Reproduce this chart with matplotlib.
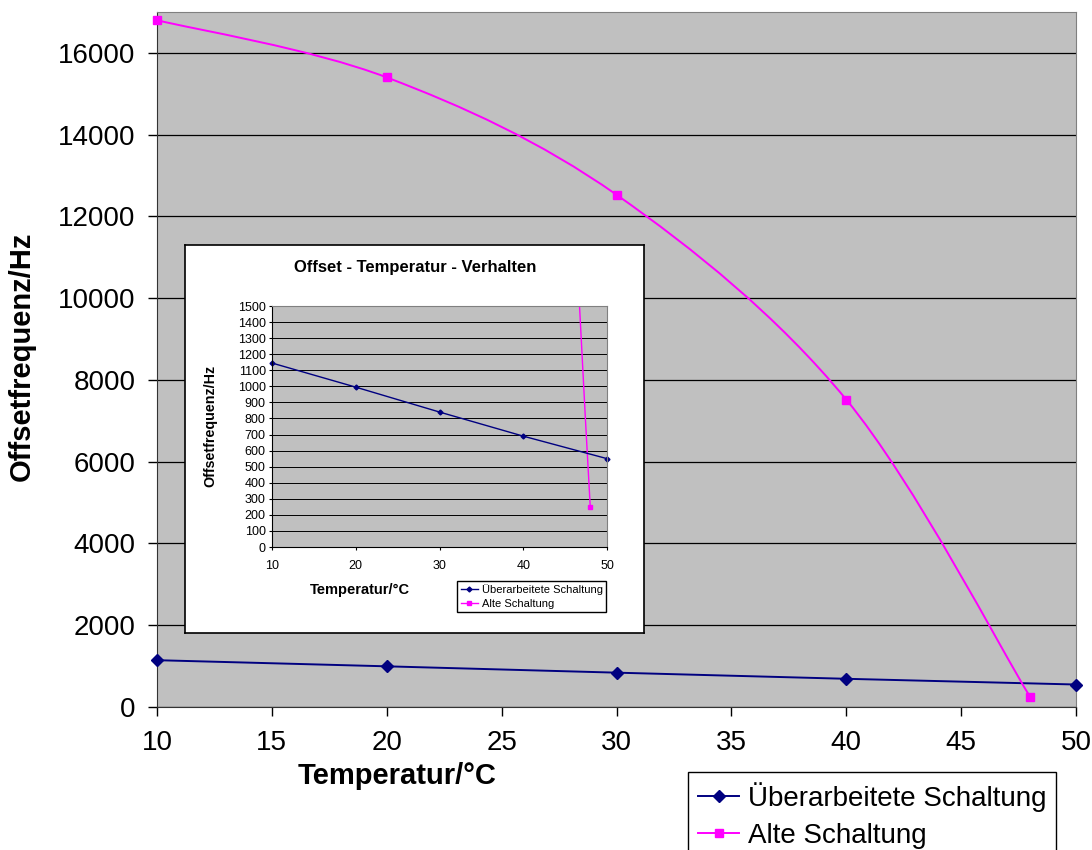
import numpy as np
import matplotlib.pyplot as plt
from matplotlib.path import Path
from matplotlib.patches import PathPatch
from matplotlib.lines import Line2D

plt.rcParams['font.family'] = ['Liberation Sans', 'DejaVu Sans']

# data
temp_neu = [10, 20, 30, 40, 50]
offset_neu = [1145, 995, 840, 690, 550]
temp_alt = [10, 20, 30, 40, 48]
offset_alt = [16800, 15400, 12530, 7520, 250]

label_neu = 'Überarbeitete Schaltung'
label_alt = 'Alte Schaltung'
navy = '#000080'
pink = '#FF00FF'
gray = '#C0C0C0'


def smooth_path(x, y):
    # excel-like smoothed line: catmull-rom segments as cubic bezier
    pts = np.column_stack([x, y]).astype(float)
    p = np.vstack([pts[0], pts, pts[-1]])
    verts = [pts[0]]
    codes = [Path.MOVETO]
    for i in range(1, len(p) - 2):
        c1 = p[i] + (p[i + 1] - p[i - 1]) / 6
        c2 = p[i + 1] - (p[i + 2] - p[i]) / 6
        verts += [c1, c2, p[i + 1]]
        codes += [Path.CURVE4] * 3
    return Path(verts, codes)


fig = plt.figure(figsize=(10.92, 8.5), dpi=100)

# main chart
ax = fig.add_axes([157 / 1092, 143 / 850, 919 / 1092, 695 / 850])
ax.set_facecolor(gray)
ax.set_xlim(10, 50)
ax.set_ylim(0, 17000)
ax.set_xticks(range(10, 51, 5))
ax.set_yticks(range(0, 16001, 2000))
ax.grid(True, axis='y', color='black', linewidth=0.9)
ax.set_axisbelow(True)
ax.tick_params(labelsize=20, length=6.5, width=1, direction='out')
ax.tick_params(axis='x', pad=10)
ax.tick_params(axis='y', pad=9)
for s in ['top', 'right']:
    ax.spines[s].set_color('#808080')
for s in ['left', 'bottom']:
    ax.spines[s].set_color('#333333')

ax.plot(temp_neu, offset_neu, color=navy, lw=1.4, marker='D', ms=6, clip_on=False, zorder=3)
ax.add_patch(PathPatch(smooth_path(temp_alt, offset_alt), fill=False, edgecolor=pink, lw=1.4, zorder=3))
ax.plot(temp_alt, offset_alt, color=pink, ls='none', marker='s', ms=6, clip_on=False, zorder=4)

ax.set_xlabel('Temperatur/°C', fontsize=21, fontweight='bold', va='center')
ax.xaxis.set_label_coords(0.261, -0.1)
ax.set_ylabel('Offsetfrequenz/Hz', fontsize=21, fontweight='bold', va='center')
ax.yaxis.set_label_coords(-0.147, 0.504)

handles = [Line2D([], [], color=navy, lw=1.4, marker='D', ms=6),
           Line2D([], [], color=pink, lw=1.4, marker='s', ms=6)]
leg = fig.legend(handles, [label_neu, label_alt], loc='upper left',
                 bbox_to_anchor=(688 / 1092, 1 - 772 / 850), borderaxespad=0,
                 fontsize=20, fancybox=False, edgecolor='black', framealpha=1,
                 handlelength=1.5, handletextpad=0.3, borderpad=0.35, labelspacing=0.4)
leg.get_frame().set_linewidth(1)

# pasted picture of the zoomed chart
frame = fig.add_axes([185 / 1092, 217 / 850, 459 / 1092, 388 / 850])
frame.set_facecolor('white')
frame.set_xticks([])
frame.set_yticks([])
for s in frame.spines.values():
    s.set_color('black')
    s.set_linewidth(1.2)

ins = fig.add_axes([272 / 1092, 303 / 850, 335 / 1092, 241 / 850])
ins.set_facecolor(gray)
ins.set_xlim(10, 50)
ins.set_ylim(0, 1500)
ins.set_xticks(range(10, 51, 10))
ins.set_yticks(range(0, 1501, 100))
ins.grid(True, axis='y', color='black', linewidth=0.7)
ins.set_axisbelow(True)
ins.tick_params(labelsize=9, length=2.5, width=0.8, pad=2)
ins.tick_params(axis='x', pad=7)
for s in ['top', 'right']:
    ins.spines[s].set_color('#808080')
    ins.spines[s].set_linewidth(0.8)
for s in ['left', 'bottom']:
    ins.spines[s].set_color('black')
    ins.spines[s].set_linewidth(0.8)

ins.plot(temp_neu, offset_neu, color=navy, lw=1, marker='D', ms=2.5, clip_on=False)
ins.add_patch(PathPatch(smooth_path(temp_alt, offset_alt), fill=False, edgecolor=pink, lw=1))
ins.plot(temp_alt, offset_alt, color=pink, ls='none', marker='s', ms=3)

ins.text(0.427, 1.158, 'Offset - Temperatur - Verhalten', transform=ins.transAxes,
         ha='center', va='center', fontsize=12, fontweight='bold')
ins.set_xlabel('Temperatur/°C', fontsize=10.5, fontweight='bold', va='center')
ins.xaxis.set_label_coords(0.263, -0.178)
ins.set_ylabel('Offsetfrequenz/Hz', fontsize=10.3, fontweight='bold', va='center')
ins.yaxis.set_label_coords(-0.185, 0.502)

ih = [Line2D([], [], color=navy, lw=1, marker='D', ms=2.5),
      Line2D([], [], color=pink, lw=1, marker='s', ms=3)]
ileg = ins.legend(ih, [label_neu, label_alt], loc='upper right',
                  bbox_to_anchor=(0.997, -0.141), borderaxespad=0, fontsize=8,
                  fancybox=False, edgecolor='black', framealpha=1,
                  handlelength=1.6, handletextpad=0.3, borderpad=0.3, labelspacing=0.3)
ileg.get_frame().set_linewidth(1)

fig.savefig('out.png', dpi=100)
